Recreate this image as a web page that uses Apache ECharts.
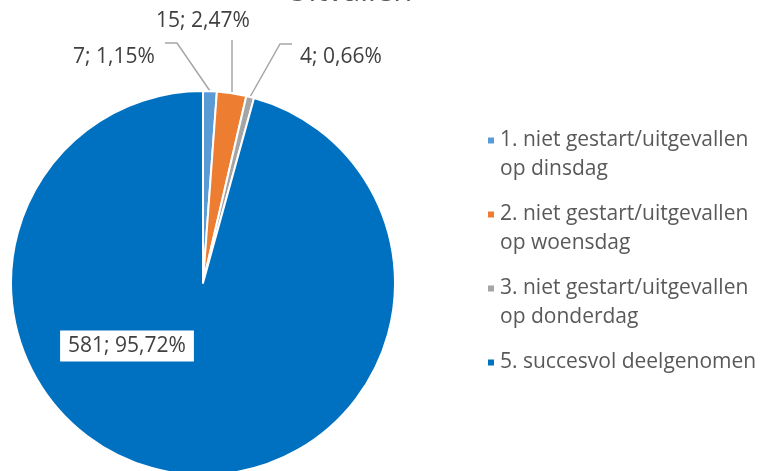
<!DOCTYPE html>
<html>
<head>
<meta charset="utf-8">
<script src="https://cdn.jsdelivr.net/npm/echarts@6/dist/echarts.min.js"></script>
<style>
html, body { margin: 0; padding: 0; background: #fff; }
#main { width: 762px; height: 471px; }
</style>
</head>
<body>
<div id="main"></div>
<script>
var categories = [
    '1. niet gestart/uitgevallen op dinsdag',
    '2. niet gestart/uitgevallen op woensdag',
    '3. niet gestart/uitgevallen op donderdag',
    '5. succesvol deelgenomen'
];
var counts = [7, 15, 4, 581];
var percentLabels = ['1,15%', '2,47%', '0,66%', '95,72%'];
var colors = ['#5B9BD5', '#ED7D31', '#A5A5A5', '#0070C0'];

var chart = echarts.init(document.getElementById('main'));
var font = 'Open Sans';

// label spots + leader lines, placed by hand like in the excel sheet
var labelSpots = [
    { x: 114, y: 57, line: [[210, 91], [177, 43], [165, 43]] },
    { x: 203, y: 21, line: [[232, 92], [232, 40]] },
    { x: 341, y: 57, line: [[250, 97], [280, 44], [292, 44]] },
    { x: 127, y: 346 }
];

var seriesData = categories.map(function (name, i) {
    var item = { name: name, value: counts[i], pct: percentLabels[i] };
    if (i === 3) {
        item.label = {
            position: 'inside',
            backgroundColor: '#fff',
            padding: [6, 8, 4, 8]
        };
    }
    return item;
});

var option = {
    color: colors,
    animation: false,
    graphic: [{
        type: 'text',
        x: 286,
        y: -23,
        style: { text: 'Uitvallen', font: '31px "' + font + '"', fill: '#595959' }
    }],
    legend: {
        orient: 'vertical',
        left: 481,
        top: 92,
        itemWidth: 8,
        itemHeight: 8,
        itemGap: -13,
        icon: 'rect',
        textStyle: { fontFamily: font, fontSize: 21, color: '#595959', lineHeight: 29 },
        // 3 lines (blank on top) so the square sits next to the first real line
        formatter: function (name) {
            if (name.indexOf(' op ') < 0) {
                return ' \n' + name + '\n ';
            }
            return ' \n' + name.replace(' op ', '\nop ');
        }
    },
    series: [{
        type: 'pie',
        center: [203, 283],
        radius: 192,
        startAngle: 90,
        clockwise: true,
        data: seriesData,
        itemStyle: { borderColor: '#fff', borderWidth: 2 },
        label: {
            show: true,
            position: 'outside',
            fontFamily: font,
            fontSize: 21,
            color: '#404040',
            formatter: function (p) {
                return p.value + '; ' + p.data.pct;
            }
        },
        labelLine: {
            show: true,
            length: 30,
            length2: 10,
            lineStyle: { color: '#A6A6A6', width: 1.5 }
        },
        labelLayout: function (params) {
            var s = labelSpots[params.dataIndex];
            var out = { x: s.x, y: s.y, align: 'center', verticalAlign: 'middle' };
            if (s.line) {
                out.labelLinePoints = s.line;
            }
            return out;
        }
    }]
};
chart.setOption(option);
</script>
</body>
</html>
